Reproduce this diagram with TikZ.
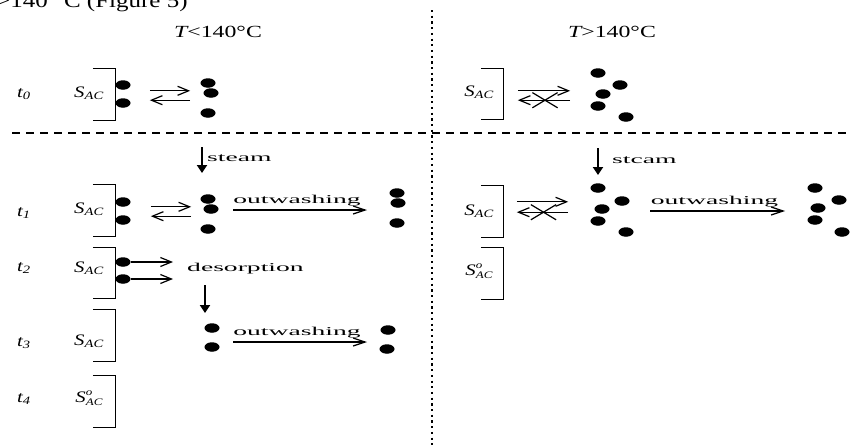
\documentclass[tikz,border=0pt]{standalone}
\usepackage{fontspec}
\setmainfont{Liberation Serif}
\newfontfamily\wordfont{Liberation Serif}[FakeStretch=2.3]
\newfontfamily\tempfont{Liberation Serif}[FakeStretch=1.4]
\newfontfamily\labelfont{Liberation Serif}[FakeStretch=1.3]
\newfontfamily\capfont{Liberation Serif}[FakeStretch=1.25]
\usetikzlibrary{arrows.meta, shapes.geometric, shapes.misc}
\newcommand{\sAC}{S\textsubscript{AC}}
\newcommand{\sACo}{S\raisebox{-3.5pt}{\fontsize{10}{8}\selectfont\shortstack[l]{o\\AC}}}

\begin{document}
\begin{tikzpicture}[x=1pt, y=-1pt]
    \tikzstyle{every node}=[inner sep=0pt, align=center]
    \tikzset{
        dot/.style={ellipse, fill=black, minimum width=15pt, minimum height=9.5pt},
        word/.style={font=\wordfont\fontsize{12}{14}\selectfont},
        temp/.style={font=\tempfont\fontsize{17}{20}\selectfont, anchor=base},
        lbl/.style={font=\labelfont\itshape\fontsize{16}{18}\selectfont, anchor=base},
        brk/.style={minimum width=22pt, minimum height=51pt},
        eq/.style={minimum height=9pt},
        barb/.style={line width=1.2pt, -{Straight Barb[length=11pt, width=9pt]}},
        wash/.style={line width=1.2pt, -{Straight Barb[length=12pt, width=8pt]}},
        flow/.style={line width=2.8pt, -{Triangle[length=8pt, width=10pt]}}
        }
    \useasboundingbox (0,0) rectangle (852,447);

    %caption line, cut at the top
    \node (cap) [font=\capfont\fontsize{20}{22}\selectfont, anchor=base west] at (-4,8) {>140 °C (Figure 5)};

    %separators
    \coordinate (vtop) at (432,10);
    \coordinate (vbot) at (432,447);
    \draw[line width=2.4pt, dash pattern=on 2.2pt off 3.5pt] (vtop) -- (vbot);
    \coordinate (hleft) at (12,133);
    \coordinate (hright) at (852,133);
    \draw[line width=1.3pt, dash pattern=on 8pt off 6pt] (hleft) -- (hright);

    %temperatures
    \node (tlow) [temp] at (218,37) {{\itshape T}<140°C};
    \node (thigh) [temp] at (612,37) {{\itshape T}>140°C};

    %time steps
    \foreach \i/\y in {0/97, 1/216, 2/271, 3/346, 4/402}
        \node (t\i) [lbl] at (24,\y) {t\textsubscript{\i}};

    %surfaces
    \foreach \n/\x/\y in {bl0/104/94.5, bl1/104/210.5, bl2/104/273, bl3/104/335.5, bl4/104/401.5, br0/492/94, br1/492/211.5, br2/492/273.5} {
        \node (\n) [brk] at (\x,\y) {};
        \draw[line width=1.2pt] (\n.north west) -- (\n.north east) -- (\n.south east) -- (\n.south west);
    }
    \node (sl0) [lbl] at (89,97) {\sAC};
    \node (sl1) [lbl] at (89,213) {\sAC};
    \node (sl2) [lbl] at (89,272) {\sAC};
    \node (sl3) [lbl] at (89,345) {\sAC};
    \node (sl4) [lbl] at (89,402) {\sACo};
    \node (sr0) [lbl] at (479,96) {\sAC};
    \node (sr1) [lbl] at (479,215) {\sAC};
    \node (sr2) [lbl] at (479,275) {\sACo};

    %adsorbed molecules
    \foreach \n/\x/\y in {s0a/123/85, s0b/123/103, s1a/123/202, s1b/123/220, s2a/123/262, s2b/123/279}
        \node (\n) [dot] at (\x,\y) {};

    %molecules in the liquid
    \foreach \n/\x/\y in {d0a/208/83, d0b/211/93, d0c/208/113, d1a/208/199, d1b/211/209, d1c/208/229,
                          w1a/397/193, w1b/398/203, w1c/397/223, d3a/212/328, d3b/212/347, w3a/388/330, w3b/387/349,
                          r0a/598/73, r0b/620/85, r0c/603/94, r0d/598/106, r0e/626/117,
                          r1a/598/188, r1b/622/201, r1c/602/209, r1d/598/221, r1e/626/232,
                          q1a/815/188, q1b/839/200, q1c/818/208, q1d/815/220, q1e/842/232}
        \node (\n) [dot] at (\x,\y) {};

    %equilibria
    \node (eq0) [eq, minimum width=40pt] at (170,95.5) {};
    \node (eq1) [eq, minimum width=40pt] at (171,211.5) {};
    \node (eqr0) [eq, minimum width=52pt] at (544,95.5) {};
    \node (eqr1) [eq, minimum width=51pt, minimum height=10pt] at (542.5,207) {};
    \foreach \n in {eq0, eq1, eqr0, eqr1} {
        \draw[barb] (\n.north west) -- (\n.north east);
        \draw[barb] (\n.south east) -- (\n.south west);
    }
    \node (xr0) [draw, cross out, line width=1.2pt, minimum width=24pt, minimum height=14pt] at ([xshift=1pt]eqr0.south) {};
    \node (xr1) [draw, cross out, line width=1.2pt, minimum width=24pt, minimum height=14pt] at ([xshift=1pt]eqr1.south) {};

    %steam
    \coordinate (st0s) at (202,147);
    \coordinate (st0e) at (202,173);
    \draw[flow] (st0s) -- (st0e);
    \node (steam0) [word, anchor=base west] at (207,161) {steam};
    \coordinate (st1s) at (598,148);
    \coordinate (st1e) at (598,175);
    \draw[flow] (st1s) -- (st1e);
    \node (steam1) [word, anchor=base west] at (612,163) {stcam};

    %outwashing
    \coordinate (ow1s) at (233,210);
    \coordinate (ow1e) at (367,210);
    \draw[wash] (ow1s) -- (ow1e) node (ow1) [word, midway, above=3pt, xshift=-3pt] {outwashing};
    \coordinate (ow3s) at (233,342);
    \coordinate (ow3e) at (367,342);
    \draw[wash] (ow3s) -- (ow3e) node (ow3) [word, midway, above=3pt, xshift=-3pt] {outwashing};
    \coordinate (owrs) at (650,211);
    \coordinate (owre) at (785,211);
    \draw[wash] (owrs) -- (owre) node (owr) [word, midway, above=3pt, xshift=-3pt] {outwashing};

    %desorption
    \coordinate (ds2a) at (173,262);
    \coordinate (ds2b) at (173,279);
    \draw[barb] (s2a.east) -- (ds2a);
    \draw[barb] (s2b.east) -- (ds2b);
    \node (des) [word, anchor=base west] at (187,271) {desorption};
    \coordinate (dn2s) at (205,285);
    \coordinate (dn2e) at (205,313);
    \draw[flow] (dn2s) -- (dn2e);
\end{tikzpicture}
\end{document}
